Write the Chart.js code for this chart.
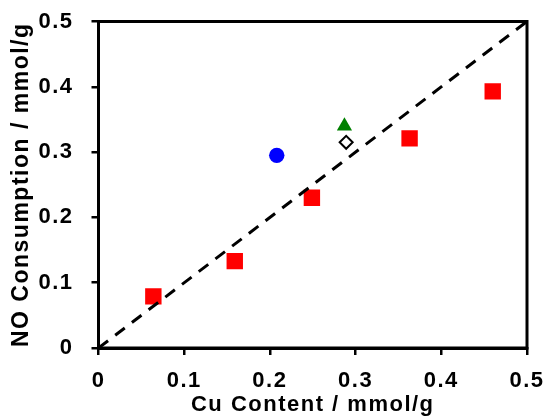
<!DOCTYPE html>
<html>
<head>
<meta charset="utf-8">
<script src="https://cdn.jsdelivr.net/npm/chart.js@4/dist/chart.umd.min.js"></script>
<style>
  html, body { margin: 0; padding: 0; background: #fff; }
  #wrap { width: 547px; height: 419px; }
</style>
</head>
<body>
<div id="wrap"><canvas id="cuChart" width="547" height="419"></canvas></div>
<script>
// Cu-loaded samples (red squares)
const cuContent = [0.064, 0.159, 0.249, 0.363, 0.460];
const noConsumption = [0.079, 0.133, 0.230, 0.321, 0.393];

// single reference samples
const circleX = [0.208];
const circleY = [0.295];
const triangleX = [0.287];
const triangleY = [0.340];
const diamondX = [0.289];
const diamondY = [0.315];

// 1:1 guide line
const guideX = [0, 0.5];
const guideY = [0, 0.5];

const xTickLabels = ['0', '0.1', '0.2', '0.3', '0.4', '0.5'];
const yTickLabels = ['0', '0.1', '0.2', '0.3', '0.4', '0.5'];

const toPoints = (xs, ys) => xs.map((x, i) => ({ x: x, y: ys[i] }));

const FONT = '"Liberation Sans", Arial, sans-serif';

// slightly wider text, like the original Excel export
const textSpacing = {
    id: 'textSpacing',
    beforeLayout(chart) { chart.ctx.letterSpacing = '1.5px'; },
    beforeDraw(chart) { chart.ctx.letterSpacing = '1.5px'; }
};

// closed box around the plot area
const plotFrame = {
    id: 'plotFrame',
    afterDraw(chart) {
        const { ctx, chartArea: a } = chart;
        ctx.save();
        ctx.strokeStyle = '#000';
        ctx.lineWidth = 3;
        ctx.strokeRect(a.left, a.top, a.right - a.left, a.bottom - a.top);
        ctx.restore();
    }
};

new Chart(document.getElementById('cuChart'), {
    type: 'scatter',
    data: {
        datasets: [
            {
                type: 'line',
                data: toPoints(guideX, guideY),
                borderColor: '#000',
                borderWidth: 3,
                borderDash: [12, 9],
                pointRadius: 0,
                fill: false,
                order: 0
            },
            {
                data: toPoints(cuContent, noConsumption),
                pointStyle: 'rect',
                pointRadius: 11.6,
                backgroundColor: '#ff0000',
                borderColor: '#ff0000',
                borderWidth: 0,
                order: 1
            },
            {
                data: toPoints(circleX, circleY),
                pointStyle: 'circle',
                pointRadius: 7.7,
                backgroundColor: '#0000ff',
                borderColor: '#0000ff',
                borderWidth: 0,
                order: 1
            },
            {
                data: toPoints(triangleX, triangleY),
                pointStyle: 'triangle',
                pointRadius: 8.8,
                backgroundColor: '#008000',
                borderColor: '#008000',
                borderWidth: 0,
                order: 1
            },
            {
                data: toPoints(diamondX, diamondY),
                pointStyle: 'rectRot',
                pointRadius: 6.5,
                backgroundColor: '#ffffff',
                borderColor: '#000000',
                borderWidth: 2,
                order: 1
            }
        ]
    },
    options: {
        responsive: false,
        animation: false,
        layout: { padding: { top: 21.5, right: 20, bottom: 0, left: 0 } },
        plugins: {
            legend: { display: false },
            tooltip: { enabled: false }
        },
        scales: {
            x: {
                type: 'linear',
                min: 0,
                max: 0.5,
                afterFit: s => {
                    s.height = 71;
                    s.paddingLeft = 0;
                    s.paddingRight = 0;
                },
                ticks: {
                    stepSize: 0.1,
                    padding: 13,
                    color: '#000',
                    font: { family: FONT, size: 22, weight: 'bold' },
                    callback: (v, i) => xTickLabels[i]
                },
                grid: { display: true, drawOnChartArea: false, drawTicks: true, tickLength: 7, color: '#000', lineWidth: 2.5 },
                border: { display: true, color: '#000', width: 3 },
                title: {
                    display: true,
                    text: 'Cu Content / mmol/g',
                    color: '#000',
                    font: { family: FONT, size: 22, weight: 'bold' },
                    padding: { top: 0, bottom: 1 }
                }
            },
            y: {
                type: 'linear',
                min: 0,
                max: 0.5,
                afterFit: s => {
                    s.width = 98.5;
                    s.paddingTop = 0;
                    s.paddingBottom = 0;
                },
                ticks: {
                    stepSize: 0.1,
                    padding: 18,
                    color: '#000',
                    font: { family: FONT, size: 22, weight: 'bold' },
                    callback: (v, i) => yTickLabels[i]
                },
                grid: { display: true, drawOnChartArea: false, drawTicks: true, tickLength: 7, color: '#000', lineWidth: 2.5 },
                border: { display: true, color: '#000', width: 3 },
                title: {
                    display: true,
                    text: 'NO Consumption / mmol/g',
                    color: '#000',
                    font: { family: FONT, size: 23, weight: 'bold' },
                    padding: { top: 8, bottom: 0 }
                }
            }
        }
    },
    plugins: [textSpacing, plotFrame]
});
</script>
</body>
</html>
